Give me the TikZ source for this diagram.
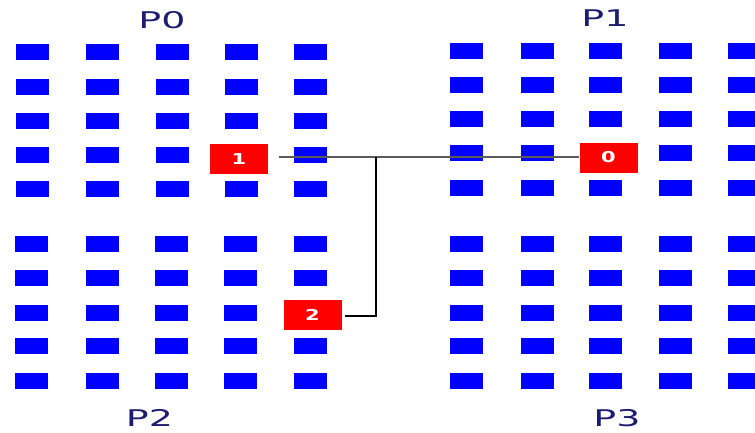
\documentclass[tikz,border=0pt]{standalone}
\usepackage{fontspec}
\setmainfont{DejaVu Sans}
\definecolor{cellblue}{RGB}{0,0,255}
\definecolor{cellred}{RGB}{255,0,0}
\definecolor{labelnavy}{RGB}{28,28,112}
\definecolor{wiregray}{RGB}{90,90,90}
\begin{document}
\begin{tikzpicture}[x=1pt,y=-1pt,
  cell/.style={fill=cellblue,draw=none,inner sep=0pt,minimum width=33pt,minimum height=16pt},
  proc/.style={fill=cellred,draw=none,inner sep=0pt,minimum width=58pt,minimum height=30pt,
    text=white,font=\fontsize{15}{15}\selectfont\bfseries},
  plabel/.style={text=labelnavy,inner sep=0pt,font=\fontsize{23}{23}\selectfont},
  wire/.style={line width=1.1pt}]
\useasboundingbox (0,0) rectangle (755,432);
% quadrant grids: columns and rows of 5x5 cells, skipping the highlighted ones
\foreach \x [count=\i] in {32.5,102.5,172,241,310}
  \foreach \y [count=\j] in {52,87,120.5,155,189}
    {\ifnum\i=4 \ifnum\j=4 \else \node[cell] (a\i\j) at (\x,\y) {}; \fi
     \else \node[cell] (a\i\j) at (\x,\y) {}; \fi}
\foreach \x [count=\i] in {466.5,537,605.5,675,744.5}
  \foreach \y [count=\j] in {50.5,84.7,118.7,153,187.5}
    {\ifnum\i=3 \ifnum\j=4 \else \node[cell] (b\i\j) at (\x,\y) {}; \fi
     \else \node[cell] (b\i\j) at (\x,\y) {}; \fi}
\foreach \x [count=\i] in {31,102,171,240,310}
  \foreach \y [count=\j] in {244,278,312.5,346,381}
    {\ifnum\i=5 \ifnum\j=3 \else \node[cell] (c\i\j) at (\x,\y) {}; \fi
     \else \node[cell] (c\i\j) at (\x,\y) {}; \fi}
\foreach \x [count=\i] in {466.5,537,605.5,675,744.5}
  \foreach \y [count=\j] in {244,278,312.5,346,381}
    {\node[cell] (d\i\j) at (\x,\y) {};}
% highlighted processes
\node[proc] (r1) at (239,159) {\scalebox{1.4}[1]{1}};
\node[proc] (r0) at (608.5,157.5) {\scalebox{1.4}[1]{0}};
\node[proc] (r2) at (312.5,315) {\scalebox{1.4}[1]{2}};
% quadrant labels
\node[plabel] (p0) at (162,20) {\scalebox{1.65}[1]{P0}};
\node[plabel] (p1) at (605,18) {\scalebox{1.65}[1]{P1}};
\node[plabel] (p2) at (149.5,418) {\scalebox{1.65}[1]{P2}};
\node[plabel] (p3) at (617,418) {\scalebox{1.65}[1]{P3}};
% connections
\coordinate (s1) at (279,157);
\coordinate (j) at (376,157);
\draw[wire,wiregray] (s1) -- (s1 -| r0.west);
\draw[wire,black] ([xshift=3pt,yshift=-1pt]r2.east) -| (j);
\end{tikzpicture}
\end{document}
